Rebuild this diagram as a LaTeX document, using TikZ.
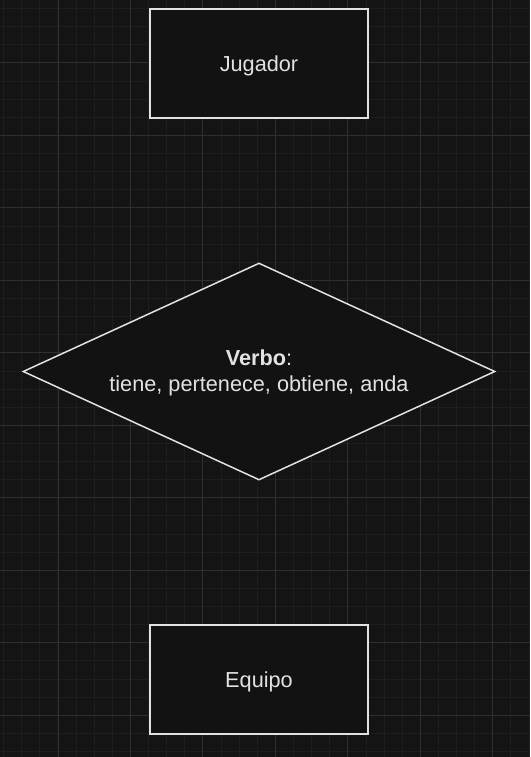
\documentclass[tikz,border=0pt]{standalone}
\usepackage{fontspec}
\setmainfont{Liberation Sans}
\usepackage{tikz}
\usetikzlibrary{shapes.geometric, positioning}
\definecolor{canvas}{HTML}{141414}
\definecolor{boxfill}{HTML}{121212}
\definecolor{gridminor}{HTML}{1E1E1E}
\definecolor{gridmajor}{HTML}{2F2F2F}
\definecolor{ink}{HTML}{E2E2E2}
\newcommand{\lowertext}[1]{\raisebox{-2pt}[\height][\depth]{#1}}
\tikzstyle{entity} = [rectangle, draw=ink, fill=boxfill, line width=1.5pt, minimum width=218pt, minimum height=109pt, inner sep=0pt, text=ink]
\tikzstyle{relation} = [diamond, draw=ink, fill=boxfill, line width=1.5pt, aspect=2.175, minimum width=472pt, minimum height=217pt, inner sep=0pt, text=ink]

\begin{document}
\begin{tikzpicture}[x=1pt, y=-1pt, font=\fontsize{21.7}{26}\selectfont]
\useasboundingbox[fill=canvas] (0,0) rectangle (530,757);
% grid of the canvas, minor lines first
\foreach \i in {0,...,29} {
	\draw[gridminor, line width=1pt] (3.6+18.12*\i,0) -- (3.6+18.12*\i,757);
}
\foreach \i in {0,...,41} {
	\draw[gridminor, line width=1pt] (0,8.6+18.12*\i) -- (530,8.6+18.12*\i);
}
\foreach \i in {0,...,6} {
	\draw[gridmajor, line width=1pt] (58+72.48*\i,0) -- (58+72.48*\i,757);
}
\foreach \i in {0,...,9} {
	\draw[gridmajor, line width=1pt] (0,63+72.48*\i) -- (530,63+72.48*\i);
}
\node (Jugador) [entity] at (259,63.5) {\lowertext{Jugador}};
\node (Verbo) [relation] at (259,371.5) {\lowertext{\begin{tabular}{@{}c@{}}\textbf{Verbo}:\\tiene, pertenece, obtiene, anda\end{tabular}}};
\node (Equipo) [entity] at (259,679.5) {\lowertext{Equipo}};
\end{tikzpicture}
\end{document}
